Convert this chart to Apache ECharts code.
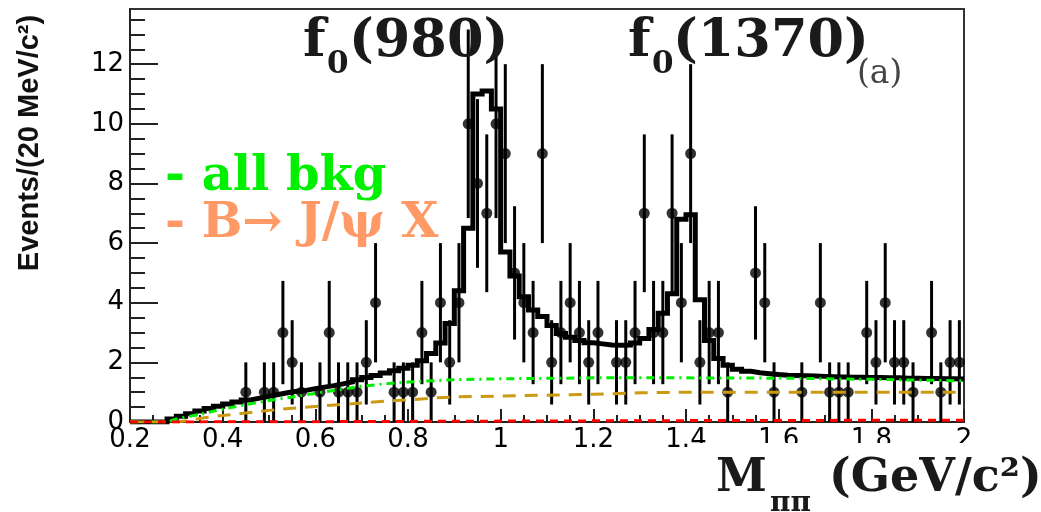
<!DOCTYPE html>
<html><head><meta charset="utf-8">
<script src="https://cdn.jsdelivr.net/npm/echarts@6/dist/echarts.min.js"></script>
<style>html,body{margin:0;padding:0;background:#fff;}#c{width:1041px;height:512px;}</style>
</head><body><div id="c"></div>
<script>
// Histogram binning (20 MeV bins from 0.2 to 2.0 GeV)
const binLow = 0.2;
const binWidth = 0.02;

// Data: events per bin (90 bins)
const dataCounts = [
  0,0,0,0,0,0,0,0,0,0,
  0,0,1,0,1,1,3,2,1,0,
  1,3,1,1,1,2,4,0,1,1,
  1,3,1,4,2,4,10,8,7,10,
  9,5,4,3,9,2,3,4,3,2,
  3,0,2,2,3,7,3,3,7,4,
  9,2,3,3,1,0,0,5,4,1,
  0,0,1,0,4,1,1,1,0,3,
  2,4,2,2,1,0,3,1,2,2
];

// Total fit (black histogram), per bin
const fitCounts = [
  0,0,0,0,0.1,0.19,0.28,0.37,0.45,0.53,
  0.6,0.67,0.74,0.8,0.86,0.92,0.98,1.03,1.06,1.12,
  1.17,1.22,1.28,1.34,1.42,1.49,1.56,1.64,1.72,1.8,
  1.9,2.05,2.3,2.65,3.3,4.4,6.5,11.0,11.1,10.5,
  5.7,4.9,4.2,3.76,3.54,3.24,2.97,2.84,2.73,2.66,
  2.62,2.58,2.57,2.58,2.65,2.8,3.1,3.65,4.3,6.8,
  6.95,4.1,2.73,2.13,1.9,1.77,1.7,1.65,1.62,1.59,
  1.57,1.56,1.55,1.54,1.53,1.52,1.51,1.5,1.5,1.49,
  1.49,1.48,1.48,1.47,1.47,1.46,1.46,1.45,1.45,1.44
];

// all bkg (green dash-dot)
const bkgMass = [0.2,0.28,0.3,0.35,0.4,0.45,0.5,0.55,0.6,0.65,0.7,0.75,0.8,0.85,0.9,1.0,1.2,1.4,1.6,1.8,2.0];
const bkgValues = [0,0,0.1,0.26,0.43,0.58,0.72,0.84,0.96,1.08,1.2,1.28,1.34,1.38,1.42,1.45,1.48,1.48,1.47,1.43,1.38];

// B -> J/psi X (orange dashed)
const bjpsiMass = [0.2,0.3,0.33,0.36,0.4,0.45,0.5,0.55,0.6,0.65,0.7,0.75,0.8,0.85,0.9,1.0,1.1,1.2,1.3,1.4,1.6,1.8,2.0];
const bjpsiValues = [0,0,0.06,0.14,0.22,0.3,0.39,0.46,0.52,0.58,0.64,0.7,0.74,0.8,0.84,0.87,0.9,0.93,0.98,1.0,1.0,1.0,1.0];

// other small component (red dashed)
const otherMass = [0.2,0.6,1.0,1.5,2.0];
const otherValues = [0,0.01,0.03,0.05,0.06];

// Axis ticks
const xMin = 0.2, xMax = 2.0, xStep = 0.2;
const yMax = 13.85;
const yMajorTicks = [0,2,4,6,8,10,12];
const yMinorTicks = [0.5,1,1.5,2.5,3,3.5,4.5,5,5.5,6.5,7,7.5,8.5,9,9.5,10.5,11,11.5,12.5,13,13.5];

const points = [], bars = [];
dataCounts.forEach((n, i) => {
  if (n > 0) {
    const x = binLow + (i + 0.5) * binWidth;
    points.push([x, n]);
    bars.push([x, n, Math.sqrt(n)]);
  }
});
const fitLine = fitCounts.map((v, i) => [binLow + i * binWidth, v]);
fitLine.push([binLow + fitCounts.length * binWidth, fitCounts[fitCounts.length - 1]]);
const zip = (a, b) => a.map((x, i) => [x, b[i]]);

const chart = echarts.init(document.getElementById('c'), null, {renderer: 'canvas'});
const tickColor = '#222';
const serif = '"DejaVu Serif", serif';

function txt(x, y, text, size, color) {
  return {
    type: 'text', x: x, y: y, z: 110,
    style: {
      text: text, fill: color,
      font: 'bold ' + size + 'px ' + serif,
      align: 'left', verticalAlign: 'middle',
      textAlign: 'left', textVerticalAlign: 'middle'
    }
  };
}

chart.setOption({
  animation: false,
  backgroundColor: '#fff',
  grid: {left: 130, right: 77, top: 9, bottom: 90, show: true, borderColor: '#333', borderWidth: 2, backgroundColor: 'transparent'},
  xAxis: {
    type: 'value', min: xMin, max: xMax, interval: xStep,
    axisLine: {show: true, lineStyle: {color: tickColor, width: 2}},
    axisTick: {show: true, inside: true, length: 13, lineStyle: {color: tickColor, width: 2}},
    minorTick: {show: true, splitNumber: 4, length: 7, lineStyle: {color: tickColor, width: 2}},
    splitLine: {show: false},
    axisLabel: {fontSize: 26, color: '#000', fontFamily: '"DejaVu Sans"', margin: 5,
      formatter: v => String(+(+v).toFixed(1))}
  },
  yAxis: [{
    type: 'value', min: 0, max: yMax,
    axisLine: {show: true, lineStyle: {color: tickColor, width: 2}},
    axisTick: {show: true, inside: true, length: 28, customValues: yMajorTicks, lineStyle: {color: tickColor, width: 2}},
    splitLine: {show: false},
    axisLabel: {fontSize: 26, color: '#000', fontFamily: '"DejaVu Sans"', margin: 6, customValues: yMajorTicks}
  }, {
    type: 'value', min: 0, max: yMax, position: 'left',
    axisLine: {show: false},
    axisTick: {show: true, inside: true, length: 15, customValues: yMinorTicks, lineStyle: {color: tickColor, width: 2}},
    splitLine: {show: false},
    axisLabel: {show: false}
  }],
  series: [
    {
      type: 'custom', name: 'errors', data: bars, z: 2, clip: true,
      renderItem: (params, api) => {
        const x = api.value(0), y = api.value(1), e = api.value(2);
        const p1 = api.coord([x, y - e]), p2 = api.coord([x, y + e]);
        return {type: 'line', shape: {x1: p1[0], y1: p1[1], x2: p2[0], y2: p2[1]},
          style: {stroke: '#000', lineWidth: 3}};
      }
    },
    {type: 'scatter', name: 'data', data: points, symbol: 'circle', symbolSize: 11,
      itemStyle: {color: '#000'}, z: 3, silent: true},
    {type: 'line', name: 'fit', data: fitLine, step: 'end', symbol: 'none', z: 4, clip: true,
      lineStyle: {color: '#000', width: 5, join: 'miter'}},
    {type: 'line', name: 'all bkg', data: zip(bkgMass, bkgValues), symbol: 'none', z: 5,
      lineStyle: {color: '#00ee00', width: 3, type: [8, 5, 2, 5]}},
    {type: 'line', name: 'B->J/psi X', data: zip(bjpsiMass, bjpsiValues), symbol: 'none', z: 5,
      lineStyle: {color: '#cc9a12', width: 3, type: [13, 9]}},
    {type: 'line', name: 'other', data: zip(otherMass, otherValues), symbol: 'none', z: 6,
      lineStyle: {color: '#ff0000', width: 3, type: [8, 6]}}
  ],
  graphic: [
    // peak labels
    txt(303, 42, 'f', 52.5, '#1a1a1a'),
    txt(327, 65, '0', 31, '#1a1a1a'),
    txt(349, 42, '(980)', 52.5, '#1a1a1a'),
    txt(628, 42, 'f', 52.5, '#1a1a1a'),
    txt(652, 65, '0', 31, '#1a1a1a'),
    txt(673, 42, '(1370)', 52.5, '#1a1a1a'),
    {type: 'text', x: 857, y: 74, z: 110, style: {text: '(a)', fill: '#444',
      font: '33px ' + serif, align: 'left', verticalAlign: 'middle', textAlign: 'left', textVerticalAlign: 'middle'}},
    // legend
    txt(165, 178, '- all bkg', 48, '#00f000'),
    txt(165, 225, '- B\u2192 J/\u03c8 X', 48, '#ff9966'),
    // y title
    {type: 'text', x: 30, y: 143, rotation: Math.PI / 2, z: 110,
      style: {text: 'Events/(20 MeV/c\u00b2)', fill: '#111', font: 'bold 29px "Liberation Sans", sans-serif',
        align: 'center', verticalAlign: 'middle', textAlign: 'center', textVerticalAlign: 'middle'}},
    // x title box
    {type: 'rect', z: 105, shape: {x: 688, y: 443, width: 353, height: 69}, style: {fill: '#fff'}},
    txt(716, 479, 'M', 46, '#1a1a1a'),
    txt(770, 504, '\u03c0\u03c0', 28, '#1a1a1a'),
    txt(829, 479, '(GeV/c\u00b2)', 46, '#1a1a1a')
  ]
});
</script>
</body></html>
